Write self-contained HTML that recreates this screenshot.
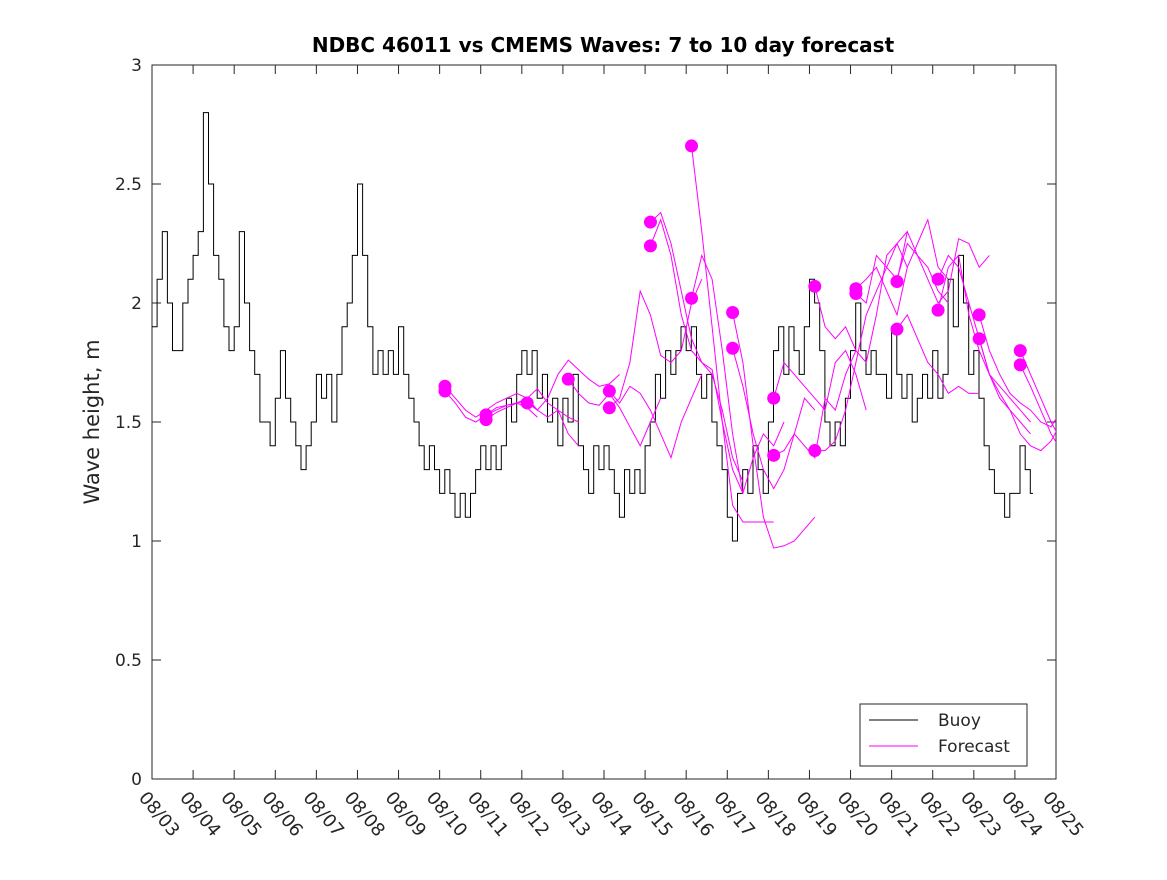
<!DOCTYPE html>
<html><head><meta charset="utf-8"><style>
body{margin:0;background:#fff;}
svg text{font-family:"DejaVu Sans","Liberation Sans",sans-serif;fill:#262626;}
</style></head><body>
<svg id="chart" width="1167" height="875" xmlns="http://www.w3.org/2000/svg">
<rect width="1167" height="875" fill="#fff"/>
<defs><clipPath id="plotclip"><rect x="152" y="65" width="904" height="714"/></clipPath></defs>
<text x="603" y="52" text-anchor="middle" font-size="20" font-weight="bold" style="fill:#000">NDBC 46011 vs CMEMS Waves: 7 to 10 day forecast</text>
<text transform="translate(99,422) rotate(-90)" text-anchor="middle" font-size="21">Wave height, m</text>
<g id="axes"></g>
<g id="buoy" clip-path="url(#plotclip)"></g>
<g id="fc" clip-path="url(#plotclip)"></g>
<g>
<rect x="860" y="704" width="167" height="62" fill="#fff" stroke="#262626" stroke-width="1"/>
<line x1="869" y1="720" x2="918" y2="720" stroke="#000" stroke-width="1"/>
<text x="938" y="726" font-size="17">Buoy</text>
<line x1="869" y1="746" x2="918" y2="746" stroke="#ff00ff" stroke-width="1"/>
<text x="938" y="752" font-size="17">Forecast</text>
</g>
</svg>
<script>
const xTickLabels=["08/03","08/04","08/05","08/06","08/07","08/08","08/09","08/10","08/11","08/12","08/13","08/14","08/15","08/16","08/17","08/18","08/19","08/20","08/21","08/22","08/23","08/24","08/25"];
const yTickValues=[0,0.5,1,1.5,2,2.5,3];
const yTickLabels=["0","0.5","1","1.5","2","2.5","3"];
// buoy: 3-hourly heights from 08/03 00:00
const buoyStepDays=0.125;
const buoyHeights=[1.9,2.1,2.3,2.0,1.8,1.8,2.0,2.1,2.2,2.3,2.8,2.5,2.2,2.1,1.9,1.8,1.9,2.3,2.0,1.8,1.7,1.5,1.5,1.4,1.6,1.8,1.6,1.5,1.4,1.3,1.4,1.5,1.7,1.6,1.7,1.5,1.7,1.9,2.0,2.2,2.5,2.2,1.9,1.7,1.8,1.7,1.8,1.7,1.9,1.7,1.6,1.5,1.4,1.3,1.4,1.3,1.2,1.3,1.2,1.1,1.2,1.1,1.2,1.3,1.4,1.3,1.4,1.3,1.4,1.6,1.5,1.7,1.8,1.7,1.8,1.6,1.7,1.5,1.6,1.4,1.6,1.5,1.7,1.4,1.3,1.2,1.4,1.3,1.4,1.3,1.2,1.1,1.3,1.2,1.3,1.2,1.4,1.5,1.7,1.6,1.8,1.7,1.8,1.9,1.8,1.9,1.7,1.6,1.7,1.5,1.4,1.3,1.1,1.0,1.2,1.3,1.2,1.4,1.3,1.2,1.5,1.8,1.9,1.7,1.9,1.8,1.7,1.9,2.1,2.0,1.8,1.5,1.4,1.5,1.4,1.6,1.8,2.0,1.8,1.7,1.8,1.7,1.7,1.6,1.9,1.7,1.6,1.7,1.5,1.6,1.7,1.6,1.8,1.6,1.7,2.1,1.9,2.2,2.0,1.7,1.8,1.6,1.4,1.3,1.2,1.2,1.1,1.2,1.2,1.4,1.3,1.2];
// forecasts: start day (since 08/03), first value (dot), then 6-hourly values
const fcStepDays=0.25;
const fcStartDays=[7.13,7.13,8.13,8.13,9.13,10.13,11.13,11.13,12.13,12.13,13.13,13.13,14.13,14.13,15.13,15.13,16.13,16.13,17.13,17.13,18.13,18.13,19.13,19.13,20.13,20.13,21.13,21.13];
const fcValues=[
[1.65,1.60,1.55,1.52,1.55,1.58,1.60,1.62,1.60,1.55],
[1.63,1.58,1.52,1.50,1.53,1.56,1.57,1.58,1.56,1.52],
[1.53,1.55,1.57,1.58,1.59,1.55,1.52,1.55,1.45,1.40],
[1.51,1.54,1.56,1.58,1.60,1.64,1.58,1.55,1.52,1.50],
[1.58,1.55,1.60,1.70,1.76,1.72,1.68,1.65,1.66,1.70],
[1.68,1.62,1.58,1.57,1.62,1.56,1.48,1.40,1.50,1.60],
[1.63,1.58,1.65,1.62,1.55,1.45,1.35,1.50,1.60,1.70],
[1.56,1.60,1.75,2.05,1.95,1.78,1.75,1.80,2.00,2.10],
[2.34,2.38,2.25,2.05,1.85,1.75,1.70,1.55,1.35,1.25],
[2.24,2.35,2.20,1.95,1.80,1.75,1.72,1.50,1.30,1.20],
[2.66,2.30,1.90,1.50,1.15,1.08,1.08,1.08,1.08],
[2.02,2.20,2.10,1.80,1.45,1.20,1.35,1.45,1.40,1.50],
[1.96,1.75,1.40,1.10,0.97,0.98,1.00,1.05,1.10],
[1.81,1.65,1.45,1.30,1.22,1.30,1.45,1.60,1.55],
[1.60,1.75,1.70,1.65,1.60,1.55,1.75,1.80,1.70,1.55],
[1.36,1.38,1.45,1.40,1.35,1.60,1.55,1.70,1.80],
[2.07,1.90,1.85,1.90,1.80,1.75,1.95,2.20,2.25,2.15],
[1.38,1.38,1.42,1.55,1.75,1.95,2.05,2.15,2.25,2.30],
[2.06,2.10,2.15,2.05,1.95,2.15,2.25,2.35,2.15,2.10],
[2.04,2.00,2.20,2.15,2.10,2.25,2.20,2.15,2.05,2.00],
[2.09,2.30,2.20,2.10,2.00,2.05,2.27,2.25,2.15,2.20],
[1.89,1.95,1.85,1.75,1.70,1.62,1.65,1.62,1.62],
[2.10,2.20,2.15,2.00,1.85,1.70,1.60,1.55,1.50,1.45],
[1.97,2.15,2.20,1.95,1.80,1.70,1.65,1.60,1.55,1.50],
[1.95,1.80,1.70,1.62,1.58,1.55,1.50,1.48,1.55,1.60],
[1.85,1.70,1.62,1.55,1.45,1.40,1.38,1.42,1.50,1.55],
[1.80,1.70,1.60,1.50,1.42,1.40,1.45,1.55],
[1.74,1.65,1.55,1.45,1.38,1.36,1.42,1.50]
];
const L=152,R=1056,T=65,B=779,NS="http://www.w3.org/2000/svg";
const xS=d=>L+d*(R-L)/22;
const yS=v=>B-v*(B-T)/3;
function mk(tag,attrs,parent){const e=document.createElementNS(NS,tag);for(const k in attrs)e.setAttribute(k,attrs[k]);parent.appendChild(e);return e;}
const ax=document.getElementById('axes');
const box=mk('rect',{x:L,y:T,width:R-L,height:B-T,fill:'none',stroke:'#262626','stroke-width':1},ax);


xTickLabels.forEach((lab,i)=>{
  const x=xS(i);
  const t1=mk('line',{x1:x,y1:B,x2:x,y2:B-9,stroke:'#262626'},ax);
  
  
  const t2=mk('line',{x1:x,y1:T,x2:x,y2:T+9,stroke:'#262626'},ax);
  
  
  const tx=mk('text',{transform:`translate(${x-14},${B+19}) rotate(50)`,'font-size':18},ax);
  tx.textContent=lab;
  
  
});
yTickValues.forEach((v,i)=>{
  const y=yS(v);
  const t1=mk('line',{x1:L,y1:y,x2:L+9,y2:y,stroke:'#262626'},ax);
  
  
  const t2=mk('line',{x1:R,y1:y,x2:R-9,y2:y,stroke:'#262626'},ax);
  
  
  const tx=mk('text',{x:L-10,y:y+6,'text-anchor':'end','font-size':17},ax);
  tx.textContent=yTickLabels[i];
  
  
});
// buoy stair-step line
let d='';
buoyHeights.forEach((v,i)=>{
  const x=xS(i*buoyStepDays),y=yS(v);
  if(i===0){d+='M'+x.toFixed(1)+','+y.toFixed(1)+' ';}
  else{d+='H'+x.toFixed(1)+' V'+y.toFixed(1)+' ';}
});
d+='H'+xS(buoyHeights.length*buoyStepDays-0.06).toFixed(1);
const bl=mk('path',{d:d,fill:'none',stroke:'#000','stroke-width':1},document.getElementById('buoy'));


const fg=document.getElementById('fc');
fcValues.forEach((vals,k)=>{
  let p='';
  vals.forEach((v,i)=>{p+=(i?'L':'M')+xS(fcStartDays[k]+i*fcStepDays).toFixed(1)+','+yS(v).toFixed(1)+' ';});
  const ln=mk('path',{d:p,fill:'none',stroke:'#ff00ff','stroke-width':1},fg);
  
  
});
fcValues.forEach((vals,k)=>{
  const c=mk('circle',{cx:xS(fcStartDays[k]),cy:yS(vals[0]),r:6.5,fill:'#ff00ff'},fg);
  
  
});
</script>
</body></html>
